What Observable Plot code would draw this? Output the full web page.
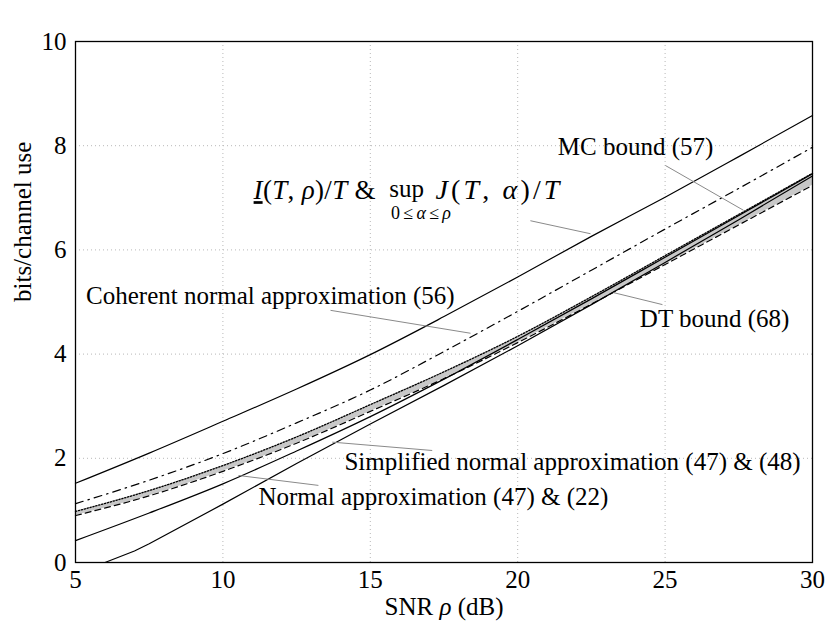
<!DOCTYPE html>
<html><head><meta charset="utf-8">
<script src="https://cdn.jsdelivr.net/npm/d3@7"></script>
<script src="https://cdn.jsdelivr.net/npm/@observablehq/plot@0.6"></script>
<style>body{margin:0;background:#fff}</style>
</head><body><div id="chart"></div>
<script>
// SNR grid (dB)
const rho = [5, 7.5, 10, 12.5, 15, 17.5, 20, 22.5, 25, 27.5, 30];
// I(T,rho)/T & sup J(T,alpha)/T  (top solid)
const capBound = [1.52, 2.10, 2.71, 3.33, 3.99, 4.72, 5.48, 6.26, 7.01, 7.79, 8.58];
// Coherent normal approximation (56)  (dash-dot)
const coherentNA = [1.13, 1.58, 2.09, 2.68, 3.31, 4.05, 4.82, 5.61, 6.40, 7.18, 7.97];
// MC bound (57)  (dotted, top of grey band)
const mcBound = [0.98, 1.38, 1.86, 2.41, 3.03, 3.66, 4.34, 5.10, 5.89, 6.68, 7.47];
// DT bound (68)  (dashed, bottom of grey band)
const dtBound = [0.90, 1.28, 1.75, 2.29, 2.90, 3.53, 4.22, 4.96, 5.72, 6.48, 7.24];
// Normal approximation (47) & (22)  (solid)
const normalNA = [0.42, 0.95, 1.51, 2.14, 2.80, 3.52, 4.28, 5.06, 5.86, 6.66, 7.46];
// Simplified normal approximation (47) & (48)  (lowest solid)
const rhoSimple = [6, 7, 7.5, 10, 12.5, 15, 17.5, 20, 22.5, 25, 27.5, 30];
const simpleNA = [0.0, 0.22, 0.36, 1.12, 1.90, 2.66, 3.40, 4.16, 4.95, 5.76, 6.58, 7.42];

const xTicks = [5, 10, 15, 20, 25, 30];
const yTicks = [0, 2, 4, 6, 8, 10];

// annotations (data coordinates)
const centerLabels = [
  {x: 24.00, y: 7.98, text: "MC bound (57)"},
  {x: 11.61, y: 5.12, text: "Coherent normal approximation (56)"},
  {x: 26.68, y: 4.68, text: "DT bound (68)"},
  {x: 21.86, y: 1.92, text: "Simplified normal approximation (47) & (48)"},
  {x: 17.14, y: 1.25, text: "Normal approximation (47) & (22)"},
  {x: 16.23, y: 7.17, text: "sup"}
];
const mathLeft = [{x: 15.18, y: 7.14, text: "I(T, ρ)/T &"}];
const mathRight = [{x: 17.21, y: 7.14, text: "J(T, α)/T"}];
const mathSub = [{x: 16.72, y: 6.70, text: "0≤α≤ρ"}];
const leaders = [
  {x1: 25.01, y1: 7.62, x2: 27.66, y2: 6.76},
  {x1: 20.43, y1: 6.56, x2: 22.47, y2: 6.31},
  {x1: 13.65, y1: 4.84, x2: 18.40, y2: 4.40},
  {x1: 23.25, y1: 5.18, x2: 24.91, y2: 4.95},
  {x1: 13.71, y1: 2.31, x2: 17.10, y2: 2.15},
  {x1: 10.53, y1: 1.67, x2: 13.24, y2: 1.48}
];

const rows = rho.map((r, i) => ({rho: r, cap: capBound[i], coh: coherentNA[i], mc: mcBound[i], dt: dtBound[i], na: normalNA[i]}));
const rowsS = rhoSimple.map((r, i) => ({rho: r, v: simpleNA[i]}));
const curve = "monotone-x";

const chart = Plot.plot({
  width: 830, height: 634,
  marginLeft: 75, marginRight: 18, marginTop: 41, marginBottom: 72,
  style: {fontFamily: "'Liberation Serif', 'Times New Roman', serif", fontSize: "25px", background: "white", color: "black"},
  x: {domain: [5, 30]},
  y: {domain: [0, 10]},
  marks: [
    Plot.gridX(xTicks.slice(1, -1), {stroke: "#b8b8b8", strokeOpacity: 1, strokeDasharray: "1,3"}),
    Plot.gridY(yTicks.slice(1, -1), {stroke: "#b8b8b8", strokeOpacity: 1, strokeDasharray: "1,3"}),
    Plot.areaY(rows, {x: "rho", y1: "dt", y2: "mc", fill: "#c8c8c8", curve}),
    Plot.line(rows, {x: "rho", y: "cap", stroke: "black", strokeWidth: 1.2, curve}),
    Plot.line(rows, {x: "rho", y: "coh", stroke: "black", strokeWidth: 1.2, strokeDasharray: "8,5,1.5,5", curve}),
    Plot.line(rows, {x: "rho", y: "mc", stroke: "black", strokeWidth: 1.3, strokeDasharray: "1.3,1.7", curve}),
    Plot.line(rows, {x: "rho", y: "dt", stroke: "black", strokeWidth: 1.2, strokeDasharray: "6,4", curve}),
    Plot.line(rows, {x: "rho", y: "na", stroke: "black", strokeWidth: 1.2, curve}),
    Plot.line(rowsS, {x: "rho", y: "v", stroke: "black", strokeWidth: 1.2}),
    Plot.axisX(xTicks, {tickSize: 0, tickPadding: 8, label: null, tickFormat: d => String(d)}),
    Plot.axisY(yTicks, {tickSize: 0, tickPadding: 9, label: null, tickFormat: d => String(d)}),
    Plot.frame({stroke: "black", strokeWidth: 1.3}),
    Plot.link(leaders, {x1: "x1", y1: "y1", x2: "x2", y2: "y2", stroke: "#8a8a8a", strokeWidth: 1}),
    Plot.text(centerLabels, {x: "x", y: "y", text: "text", textAnchor: "middle"}),
    Plot.text(mathLeft, {x: "x", y: "y", text: "text", textAnchor: "end", fontSize: 27}),
    Plot.text(mathRight, {x: "x", y: "y", text: "text", textAnchor: "start", fontSize: 28}),
    Plot.text(mathSub, {x: "x", y: "y", text: "text", textAnchor: "middle", fontSize: 18}),
    Plot.text(["bits/channel use"], {frameAnchor: "left", rotate: -90, dx: -53}),
    Plot.text(["SNR ρ (dB)"], {frameAnchor: "bottom", dy: 52})
  ]
});

// rich text: italic math symbols, stretched to TeX-like widths
const rich = {
  "SNR ρ (dB)": {parts: [["SNR ", 0], ["ρ", 1], [" (dB)", 0]]},
  "I(T, ρ)/T &": {parts: [["I", 3], ["(", 0], ["T", 1], [", ", 0], ["ρ", 1], [")/", 0], ["T", 1], [" &", 0]], len: 122},
  "J(T, α)/T": {parts: [["J", 1], ["(", 0], ["T", 1], [", ", 0], ["α", 1], [")/", 0], ["T", 1]], len: 124},
  "0≤α≤ρ": {parts: [["0≤", 0], ["α", 1], ["≤", 0], ["ρ", 1]], len: 60}
};
d3.select(chart).selectAll("text").each(function() {
  const spec = rich[this.textContent];
  if (!spec) return;
  this.textContent = "";
  for (const [s, f] of spec.parts) {
    const ts = document.createElementNS("http://www.w3.org/2000/svg", "tspan");
    ts.textContent = s;
    if (f & 1) ts.setAttribute("font-style", "italic");
    if (f & 2) ts.setAttribute("text-decoration", "underline");
    this.appendChild(ts);
  }
  if (spec.len) {
    this.setAttribute("textLength", spec.len);
    this.setAttribute("lengthAdjust", "spacing");
  }
});
document.getElementById("chart").appendChild(chart);
</script>
</body></html>
